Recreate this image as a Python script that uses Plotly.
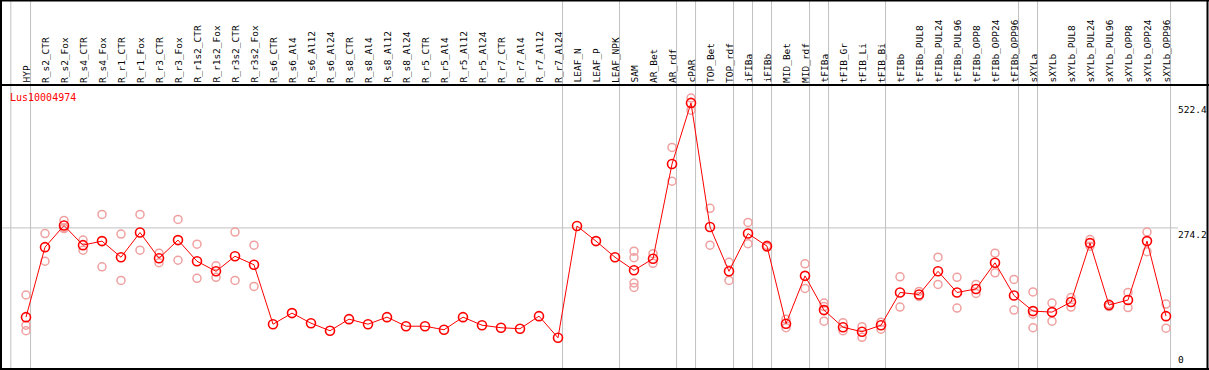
import plotly.graph_objects as go

categories = ["HYP", "R_s2_CTR", "R_s2_Fox", "R_s4_CTR", "R_s4_Fox", "R_r1_CTR", "R_r1_Fox",
              "R_r3_CTR", "R_r3_Fox", "R_r1s2_CTR", "R_r1s2_Fox", "R_r3s2_CTR", "R_r3s2_Fox",
              "R_s6_CTR", "R_s6_Al4", "R_s6_Al12", "R_s6_Al24", "R_s8_CTR", "R_s8_Al4", "R_s8_Al12",
              "R_s8_Al24", "R_r5_CTR", "R_r5_Al4", "R_r5_Al12", "R_r5_Al24", "R_r7_CTR", "R_r7_Al4",
              "R_r7_Al12", "R_r7_Al24", "LEAF_N", "LEAF_P", "LEAF_NPK", "SAM", "AR_Bet", "AR_rdf",
              "cPAR", "TOP_Bet", "TOP_rdf", "iFIBa", "iFIBb", "MID_Bet", "MID_rdf", "tFIBa",
              "tFIB_Gr", "tFIB_Li", "tFIB_Bi", "tFIBb", "tFIBb_PUL8", "tFIBb_PUL24", "tFIBb_PUL96",
              "tFIBb_OPP8", "tFIBb_OPP24", "tFIBb_OPP96", "sXYLa", "sXYLb", "sXYLb_PUL8",
              "sXYLb_PUL24", "sXYLb_PUL96", "sXYLb_OPP8", "sXYLb_OPP24", "sXYLb_OPP96"]

mean_values = [97, 236, 279, 240, 248, 216, 265, 214, 250, 208, 188, 218, 201,
               83, 105, 85, 70, 93, 83, 97, 79, 79, 72, 97, 81, 76, 74, 99, 56,
               278, 248, 216, 190, 213, 401, 522.4, 276, 188, 263, 238, 84, 179, 111,
               77, 68, 81, 146, 142, 188, 146, 153, 205, 140, 109, 107, 127,
               244, 121, 131, 248, 99]

replicates = [[141, 81, 70], [263, 208], [289, 274, 273], [250, 230], [301, 197], [262, 170],
              [301, 230], [224, 205], [291, 210], [242, 174], [199, 176], [266, 170], [240, 158],
              [], [], [], [], [], [], [], [], [], [], [], [], [], [], [], [],
              [], [], [], [228, 215, 165, 156], [223, 204], [434, 367], [532, 508],
              [313, 240], [206, 170], [285, 243], [240, 236], [93, 76], [203, 154],
              [125, 118, 89], [86, 70], [78, 57], [87, 73], [177, 117], [148, 138],
              [216, 162], [176, 115], [162, 144], [224, 185], [172, 111], [147, 103, 76],
              [125, 89], [136, 117], [251, 238], [123, 118], [146, 116], [266, 227], [123, 75]]

group_ends = [-1, 0, 28, 31, 34, 35, 37, 38, 39, 41, 42, 45, 52, 53, 60]
y_ticks = [0, 274.2, 522.4]
series_name = "Lus10004974"

W, H = 1209, 370
FONT = "DejaVu Sans Mono"
RED = "#ff0000"
PINK = "#f0a0a0"
GRAY = "#c0c0c0"


def px(x):
    return x / W


def py(y):
    return 1 - y / H


fig = go.Figure()

rx, ry = [], []
for i, reps in enumerate(replicates):
    for v in reps:
        rx.append(i)
        ry.append(v)

fig.add_trace(go.Scatter(x=rx, y=ry, mode="markers",
                         marker=dict(symbol="circle-open", size=8, color=PINK,
                                     line=dict(width=1.5, color=PINK)),
                         hoverinfo="skip", showlegend=False))

fig.add_trace(go.Scatter(x=list(range(len(categories))), y=mean_values, mode="lines+markers",
                         line=dict(color=RED, width=1),
                         marker=dict(symbol="circle-open", size=9, color=RED,
                                     line=dict(width=1.6, color=RED)),
                         showlegend=False))

shapes = []
# group separators
for g in group_ends:
    xv = g + 0.24 if g >= 0 else -0.8
    shapes.append(dict(type="line", xref="x", yref="paper", x0=xv, x1=xv, y0=py(369), y1=1,
                       line=dict(color=GRAY, width=1), layer="below"))
# horizontal grid at mid tick
shapes.append(dict(type="line", xref="paper", yref="y", x0=px(1), x1=px(1178),
                   y0=y_ticks[1], y1=y_ticks[1], line=dict(color=GRAY, width=1), layer="below"))
# borders
shapes.append(dict(type="line", xref="paper", yref="paper", x0=px(1), x1=px(1), y0=py(0), y1=py(369.5),
                   line=dict(color="black", width=2)))
shapes.append(dict(type="line", xref="paper", yref="paper", x0=px(1207.5), x1=px(1207.5), y0=py(0), y1=py(369.5),
                   line=dict(color="black", width=2)))
shapes.append(dict(type="line", xref="paper", yref="paper", x0=px(0), x1=px(1209), y0=py(0.5), y1=py(0.5),
                   line=dict(color="black", width=2)))
shapes.append(dict(type="line", xref="paper", yref="paper", x0=px(0), x1=px(1209), y0=py(369), y1=py(369),
                   line=dict(color="black", width=2)))
shapes.append(dict(type="line", xref="paper", yref="paper", x0=px(0), x1=px(1209), y0=py(85), y1=py(85),
                   line=dict(color="black", width=2)))

annotations = []
for i, c in enumerate(categories):
    annotations.append(dict(x=i, xref="x", y=py(84), yref="paper", text=c, textangle=-90,
                            showarrow=False, xanchor="center", yanchor="bottom",
                            font=dict(family=FONT, size=9.5, color="black"), borderpad=0))
for t in y_ticks:
    annotations.append(dict(x=px(1177), xref="paper", y=t, yref="y",
                            text=("%g" % t), showarrow=False, xanchor="left",
                            yanchor=("bottom" if t == 0 else "top"),
                            font=dict(family=FONT, size=9.5, color="black"), borderpad=0))
annotations.append(dict(x=px(9), xref="paper", y=py(97), yref="paper", text=series_name,
                        showarrow=False, xanchor="left", yanchor="middle",
                        font=dict(family=FONT, size=10, color=RED), borderpad=0))

x0 = -26 / 19
fig.update_layout(
    width=W, height=H, margin=dict(l=0, r=0, t=0, b=0),
    paper_bgcolor="white", plot_bgcolor="white",
    xaxis=dict(range=[x0, x0 + W / 19], visible=False, fixedrange=True),
    yaxis=dict(range=[-4 / 0.5036, 366 / 0.5036], visible=False, fixedrange=True),
    shapes=shapes, annotations=annotations,
)

fig.write_html("out.html", config={"displayModeBar": False},
               post_script="document.body.style.margin='0';")
